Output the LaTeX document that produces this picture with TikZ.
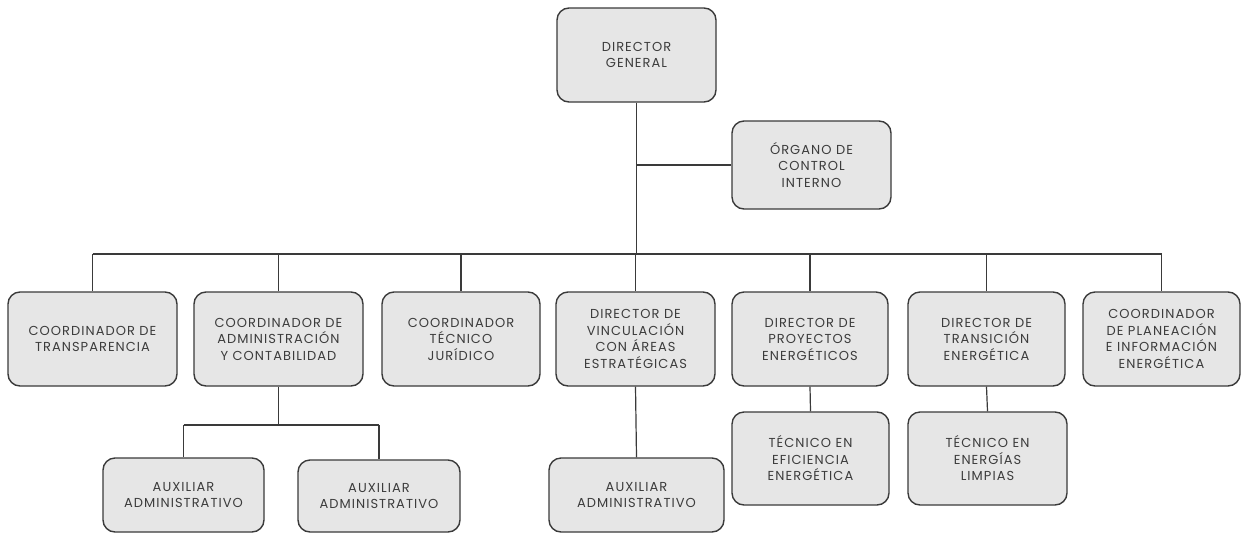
\documentclass[tikz,border=0pt]{standalone}
\usepackage{fontspec}
\setmainfont{Poppins}[LetterSpace=8]
\definecolor{boxfill}{HTML}{E6E6E6}
\definecolor{boxline}{HTML}{3A3A3A}
\definecolor{boxtext}{HTML}{3C3C3C}
\tikzset{
  cargo/.style={draw=boxline, line width=1.4pt, fill=boxfill, rounded corners=12pt,
    align=center, text=boxtext, inner sep=0pt,
    font=\fontsize{13}{16.5}\selectfont},
  enlace/.style={draw=boxline, line width=1.2pt}
}
\begin{document}
\begin{tikzpicture}[x=1pt,y=-1pt]
          \useasboundingbox (0,0) rectangle (1241,533);

          \node [cargo, minimum width=159pt, minimum height=94pt] (dg) at (636.5,55) {DIRECTOR\\GENERAL}; % top box
          \node [cargo, minimum width=159pt, minimum height=88pt] (oci) at (811.5,165) {ÓRGANO DE\\CONTROL\\INTERNO};

          \node [cargo, minimum width=169pt, minimum height=94pt] (ct) at (92.5,339) {COORDINADOR DE\\TRANSPARENCIA};
          \node [cargo, minimum width=169pt, minimum height=94pt] (cac) at (278.5,339) {COORDINADOR DE\\ADMINISTRACIÓN\\Y CONTABILIDAD};
          \node [cargo, minimum width=158pt, minimum height=94pt] (ctj) at (461,339) {COORDINADOR\\TÉCNICO\\JURÍDICO};
          \node [cargo, minimum width=159pt, minimum height=94pt] (dv) at (635.5,339) {DIRECTOR DE\\VINCULACIÓN\\CON ÁREAS\\ESTRATÉGICAS};
          \node [cargo, minimum width=156pt, minimum height=94pt] (dp) at (810,339) {DIRECTOR DE\\PROYECTOS\\ENERGÉTICOS};
          \node [cargo, minimum width=157pt, minimum height=94pt] (dt) at (986.5,339) {DIRECTOR DE\\TRANSICIÓN\\ENERGÉTICA};
          \node [cargo, minimum width=157pt, minimum height=94pt] (cp) at (1161.5,339) {COORDINADOR\\DE PLANEACIÓN\\E INFORMACIÓN\\ENERGÉTICA};

          \node [cargo, minimum width=161pt, minimum height=74pt] (aa1) at (183.5,495) {AUXILIAR\\ADMINISTRATIVO};
          \node [cargo, minimum width=162pt, minimum height=72pt] (aa2) at (379,496) {AUXILIAR\\ADMINISTRATIVO};
          \node [cargo, minimum width=175pt, minimum height=74pt] (aa3) at (636.5,495) {AUXILIAR\\ADMINISTRATIVO};
          \node [cargo, minimum width=157pt, minimum height=93pt] (tee) at (810.5,458.5) {TÉCNICO EN\\EFICIENCIA\\ENERGÉTICA};
          \node [cargo, minimum width=159pt, minimum height=93pt] (tel) at (987.5,458.5) {TÉCNICO EN\\ENERGÍAS\\LIMPIAS};

          \coordinate (bus) at (636,254);
          \coordinate (sub) at (279,425);

          \draw [enlace] (dg.south) to (dg.south |- bus);
          \draw [enlace] (dg.south |- oci.west) to (oci.west);
          \draw [enlace] (ct.north |- bus) to (cp.north |- bus);
          \foreach \n in {ct,cac,ctj,dv,dp,dt,cp}
            \draw [enlace] (\n.north |- bus) to (\n.north);

          \draw [enlace] (cac.south) to (cac.south |- sub);
          \draw [enlace] (aa1.north |- sub) to (aa2.north |- sub);
          \draw [enlace] (aa1.north |- sub) to (aa1.north);
          \draw [enlace] (aa2.north |- sub) to (aa2.north);

          \draw [enlace] (dv.south) to (aa3.north);
          \draw [enlace] (dp.south) to (tee.north);
          \draw [enlace] (dt.south) to (tel.north);
        \end{tikzpicture}
\end{document}
